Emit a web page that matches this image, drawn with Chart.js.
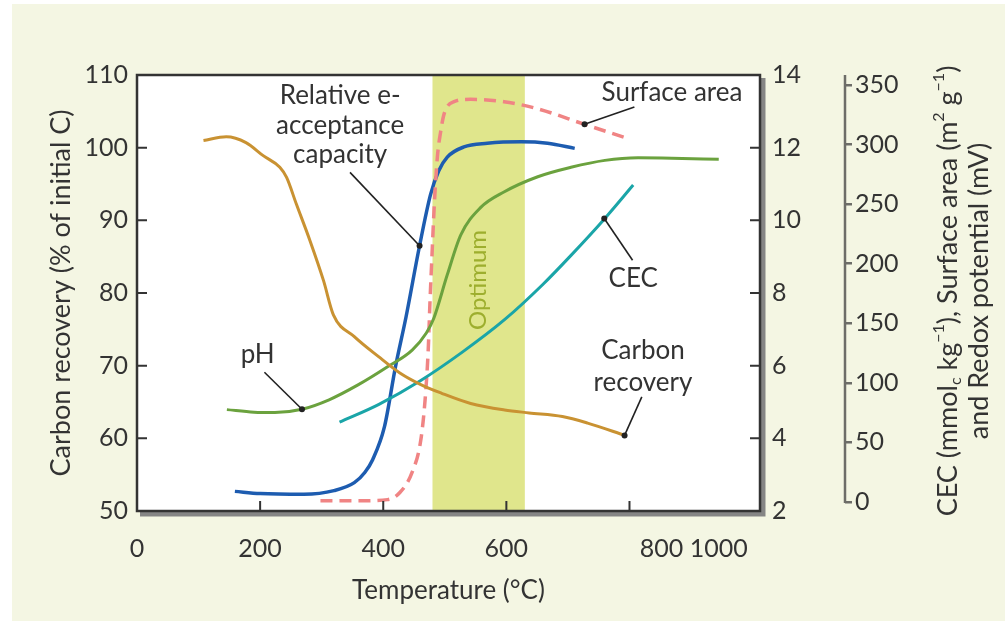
<!DOCTYPE html>
<html>
<head>
<meta charset="utf-8">
<script src="https://cdn.jsdelivr.net/npm/chart.js"></script>
<style>
  body { margin: 0; background: #fff; }
  canvas { display: block; }
</style>
</head>
<body>
<canvas id="chart" width="1005" height="621"></canvas>
<script>
// values (temperature in °C)
const carbonTemp = [108, 145, 177, 205, 232, 243, 259, 281, 303, 319, 353, 393, 427, 461, 495, 542, 597, 637, 691, 732, 793];
const carbonRecovery = [101.0, 101.5, 100.7, 98.9, 97.3, 95.9, 92.2, 87.2, 81.7, 77.0, 74.0, 71.2, 69.0, 67.4, 66.2, 64.8, 63.9, 63.5, 63.0, 62.1, 60.4];

const eaccTemp = [159, 200, 271, 320, 353, 370, 383, 402, 420, 437, 459, 477, 490, 504, 531, 569, 624, 667, 711];
const eaccValues = [52.7, 52.4, 52.3, 52.8, 53.9, 55.3, 57.1, 61.6, 69.9, 76.7, 86.5, 93.6, 96.8, 98.7, 100.1, 100.6, 100.8, 100.6, 99.9];

const surfTemp = [298, 350, 407, 427, 447, 461, 468, 473, 476, 479, 483, 488, 493, 499, 515, 542, 596, 651, 727, 792];
const surfArea = [1, 1, 2, 8, 25, 52, 86, 127, 169, 205, 250, 290, 310, 326, 336, 338, 336, 330, 317, 306];

const phTemp = [146, 190, 224, 268, 312, 359, 407, 447, 470, 482, 504, 526, 558, 596, 651, 705, 760, 814, 869, 945];
const phValues = [4.79, 4.72, 4.71, 4.80, 5.06, 5.47, 5.97, 6.43, 6.9, 7.3, 8.5, 9.6, 10.35, 10.78, 11.2, 11.46, 11.65, 11.72, 11.71, 11.68];

const cecTemp = [329, 393, 461, 529, 597, 660, 705, 760, 806];
const cecValues = [67, 82, 102, 126, 153, 183, 207, 238, 266];

// axis ticks; the 800 and 1000 labels sit off their tick marks in the original
const xTickMarks = [200, 400, 600, 800];
const xLabelPos = [0, 200, 400, 600, 852, 945];
const xLabelText = ['0', '200', '400', '600', '800', '1000'];
const rightTicks = [0, 50, 100, 150, 200, 250, 300, 350];
const optimumRange = [480, 630];

const FONT = 'Lato, "Open Sans", sans-serif';
const INK = '#333';

const pts = (xs, ys) => xs.map((x, i) => ({ x: x, y: ys[i] }));

const annotations = [
  { lines: ['Relative e-', 'acceptance', 'capacity'], x: 330, y: [107.2, 103.0, 99.0],
    from: [346, 96.6, 'y'], to: [459, 86.5, 'y'] },
  { lines: ['Surface area'], x: 869, y: [107.6], from: [808, 105.6, 'y'], to: [727, 317, 'y2'] },
  { lines: ['CEC'], x: 806, y: [82.0], from: [805, 84.5, 'y'], to: [759, 238, 'y2'] },
  { lines: ['pH'], x: 196, y: [71.5], from: [207, 69.1, 'y'], to: [268, 4.80, 'y1'] },
  { lines: ['Carbon', 'recovery'], x: 822, y: [72.1, 67.7], from: [820, 65.7, 'y'], to: [792, 60.4, 'y'] }
];

const rightTitle = [
  [['CEC (mmol', 0], ['c', 1], [' kg', 0], ['\u22121', -1], ['), Surface area (m', 0], ['2', -1], [' g', 0], ['\u22121', -1], [')', 0]],
  [['and Redox potential (mV)', 0]]
];

const decor = {
  id: 'decor',
  beforeDraw(chart) {
    const ctx = chart.ctx, a = chart.chartArea;
    ctx.save();
    ctx.fillStyle = '#ffffff';
    ctx.fillRect(0, 0, chart.width, chart.height);
    ctx.fillStyle = '#f4f6e3';
    ctx.fillRect(12, 4, chart.width - 12, chart.height - 4);
    ctx.fillStyle = '#ffffff';
    ctx.fillRect(a.left, a.top, a.right - a.left, a.bottom - a.top);
    ctx.restore();
  },
  beforeDatasetsDraw(chart) {
    const ctx = chart.ctx, a = chart.chartArea, x = chart.scales.x;
    const x0 = x.getPixelForValue(optimumRange[0]), x1 = x.getPixelForValue(optimumRange[1]);
    ctx.save();
    ctx.fillStyle = '#e0e68c';
    ctx.fillRect(x0, a.top, x1 - x0, a.bottom - a.top);
    ctx.translate(x.getPixelForValue(555), chart.scales.y.getPixelForValue(81.8));
    ctx.rotate(-Math.PI / 2);
    ctx.fillStyle = '#9dae2e';
    ctx.font = '24px ' + FONT;
    ctx.textAlign = 'center';
    ctx.textBaseline = 'middle';
    ctx.fillText('Optimum', 0, 0);
    ctx.restore();
  },
  afterDatasetsDraw(chart) {
    const ctx = chart.ctx, a = chart.chartArea, s = chart.scales;
    ctx.save();
    // frame with drop shadow on bottom / right
    ctx.strokeStyle = '#858585';
    ctx.lineWidth = 5;
    ctx.beginPath();
    ctx.moveTo(a.right + 3, a.top + 3);
    ctx.lineTo(a.right + 3, a.bottom + 3);
    ctx.lineTo(a.left + 3, a.bottom + 3);
    ctx.stroke();
    ctx.strokeStyle = INK;
    ctx.lineWidth = 2.5;
    ctx.strokeRect(a.left, a.top, a.right - a.left, a.bottom - a.top);

    // inward tick marks
    ctx.lineWidth = 2;
    ctx.beginPath();
    s.y.ticks.forEach(t => {
      const p = s.y.getPixelForValue(t.value);
      ctx.moveTo(a.left, p); ctx.lineTo(a.left + 10, p);
    });
    s.y1.ticks.forEach(t => {
      const p = s.y1.getPixelForValue(t.value);
      ctx.moveTo(a.right - 10, p); ctx.lineTo(a.right, p);
    });
    xTickMarks.forEach(v => {
      const p = s.x.getPixelForValue(v);
      ctx.moveTo(p, a.bottom); ctx.lineTo(p, a.bottom - 10);
    });
    ctx.stroke();

    // third axis line, from 0 up to the top
    ctx.strokeStyle = '#6d6d68';
    ctx.lineWidth = 2.5;
    ctx.beginPath();
    ctx.moveTo(s.y2.left, s.y2.getPixelForValue(0) + 1);
    ctx.lineTo(s.y2.left, a.top);
    ctx.stroke();

    // curve labels with leader lines
    ctx.font = '26px ' + FONT;
    ctx.fillStyle = INK;
    ctx.textAlign = 'center';
    ctx.textBaseline = 'middle';
    annotations.forEach(an => {
      an.lines.forEach((l, i) => ctx.fillText(l, s.x.getPixelForValue(an.x), s.y.getPixelForValue(an.y[i])));
      const fx = s.x.getPixelForValue(an.from[0]), fy = s[an.from[2]].getPixelForValue(an.from[1]);
      const tx = s.x.getPixelForValue(an.to[0]), ty = s[an.to[2]].getPixelForValue(an.to[1]);
      ctx.strokeStyle = '#222';
      ctx.lineWidth = 1.6;
      ctx.beginPath(); ctx.moveTo(fx, fy); ctx.lineTo(tx, ty); ctx.stroke();
      ctx.beginPath(); ctx.arc(tx, ty, 3, 0, Math.PI * 2); ctx.fillStyle = '#222'; ctx.fill();
      ctx.fillStyle = INK;
    });
    ctx.restore();
  },
  afterDraw(chart) {
    const ctx = chart.ctx;
    const centers = [948, 979];
    ctx.save();
    ctx.fillStyle = INK;
    ctx.textBaseline = 'middle';
    rightTitle.forEach((segs, li) => {
      const fontFor = k => (k === 0 ? '27px ' : '16px ') + FONT;
      let w = 0;
      segs.forEach(([t, k]) => { ctx.font = fontFor(k); w += ctx.measureText(t).width; });
      ctx.save();
      ctx.translate(centers[li], 291);
      ctx.rotate(-Math.PI / 2);
      let cx = -w / 2;
      ctx.textAlign = 'left';
      segs.forEach(([t, k]) => {
        ctx.font = fontFor(k);
        const dy = k === 1 ? 8 : (k === -1 ? -9 : 0);
        ctx.fillText(t, cx, dy);
        cx += ctx.measureText(t).width;
      });
      ctx.restore();
    });
    ctx.restore();
  }
};

const lineStyle = (label, data, color, axis, extra) => Object.assign({
  label: label, data: data, borderColor: color, yAxisID: axis,
  borderWidth: 3, pointRadius: 0, fill: false, cubicInterpolationMode: 'monotone'
}, extra || {});

const tickFont = { family: FONT, size: 25 };
const titleFont = { family: FONT, size: 26 };

new Chart(document.getElementById('chart'), {
  type: 'line',
  data: {
    datasets: [
      lineStyle('Carbon recovery', pts(carbonTemp, carbonRecovery), '#c99232', 'y'),
      lineStyle('pH', pts(phTemp, phValues), '#6ba23e', 'y1'),
      lineStyle('CEC', pts(cecTemp, cecValues), '#1aa5a8', 'y2'),
      lineStyle('Surface area', pts(surfTemp, surfArea), '#f08484', 'y2', { borderDash: [12, 7], borderWidth: 3.5 }),
      lineStyle('Relative e-acceptance capacity', pts(eaccTemp, eaccValues), '#1d5cb0', 'y', { borderWidth: 3.5 })
    ]
  },
  options: {
    responsive: false,
    animation: false,
    layout: { padding: { top: 75, left: 0, right: 0, bottom: 0 } },
    plugins: { legend: { display: false }, tooltip: { enabled: false } },
    scales: {
      x: {
        type: 'linear', min: 0, max: 1012,
        afterBuildTicks: sc => { sc.ticks = xLabelPos.map(v => ({ value: v })); },
        afterFit: sc => { sc.height = 110; },
        grid: { display: false }, border: { display: false },
        ticks: { autoSkip: false, maxRotation: 0, padding: 15, color: INK, font: tickFont,
          callback: (v, i) => xLabelText[i] },
        title: { display: true, text: 'Temperature (\u00B0C)', color: INK, font: titleFont, padding: { top: 0, bottom: 15 } }
      },
      y: {
        position: 'left', min: 50, max: 110,
        afterFit: sc => { sc.width = 137; },
        grid: { display: false }, border: { display: false },
        ticks: { stepSize: 10, padding: 1, color: INK, font: tickFont },
        title: { display: true, text: 'Carbon recovery (% of initial C)', color: INK, font: { family: FONT, size: 27 }, padding: { top: 45, bottom: 0 } }
      },
      y1: {
        position: 'right', min: 2, max: 14, weight: 0,
        afterFit: sc => { sc.width = 85; },
        grid: { display: false }, border: { display: false },
        ticks: { stepSize: 2, padding: 4, color: INK, font: tickFont }
      },
      y2: {
        position: 'right', min: -7.55, max: 358.4, weight: 1,
        afterBuildTicks: sc => { sc.ticks = rightTicks.map(v => ({ value: v })); },
        afterFit: sc => { sc.width = 160; },
        grid: { display: true, drawOnChartArea: false, tickLength: 7, color: '#6d6d68', lineWidth: 2.5 },
        border: { display: false },
        ticks: { padding: 3, color: INK, font: tickFont }
      }
    }
  },
  plugins: [decor]
});
</script>
</body>
</html>
